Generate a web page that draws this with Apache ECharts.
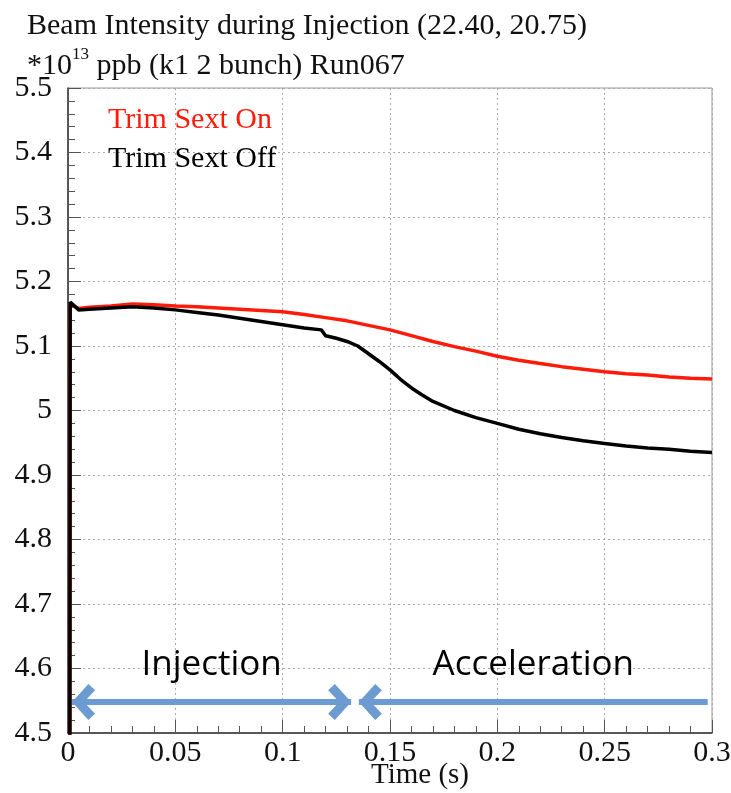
<!DOCTYPE html>
<html>
<head>
<meta charset="utf-8">
<script src="https://cdn.jsdelivr.net/npm/echarts@6/dist/echarts.min.js"></script>
<style>
  html, body { margin: 0; padding: 0; background: #fff; }
  #chart { width: 731px; height: 793px; }
</style>
</head>
<body>
<div id="chart"></div>
<script>
// Beam intensity (×10^13 ppb) versus time for the two trim-sextupole settings.
const timeOn = [0, 0.001, 0.005, 0.01, 0.02, 0.03, 0.04, 0.05, 0.06, 0.07, 0.08, 0.09, 0.1, 0.11, 0.12, 0.13, 0.14, 0.15, 0.16, 0.17, 0.18, 0.19, 0.2, 0.21, 0.22, 0.23, 0.24, 0.25, 0.26, 0.27, 0.28, 0.29, 0.3];
const intensityOn = [0, 5.165, 5.158, 5.16, 5.162, 5.165, 5.164, 5.162, 5.161, 5.159, 5.157, 5.155, 5.153, 5.149, 5.144, 5.139, 5.132, 5.125, 5.116, 5.107, 5.099, 5.092, 5.084, 5.078, 5.073, 5.068, 5.064, 5.06, 5.057, 5.055, 5.052, 5.05, 5.049];

const timeOff = [0, 0.001, 0.005, 0.01, 0.02, 0.03, 0.04, 0.05, 0.06, 0.07, 0.08, 0.09, 0.1, 0.11, 0.118, 0.12, 0.125, 0.13, 0.135, 0.14, 0.145, 0.15, 0.155, 0.16, 0.165, 0.17, 0.18, 0.19, 0.2, 0.21, 0.22, 0.23, 0.24, 0.25, 0.26, 0.27, 0.28, 0.29, 0.3];
const intensityOff = [0, 5.168, 5.156, 5.157, 5.159, 5.161, 5.159, 5.156, 5.152, 5.148, 5.143, 5.138, 5.133, 5.128, 5.125, 5.116, 5.112, 5.107, 5.1, 5.088, 5.076, 5.063, 5.048, 5.035, 5.024, 5.014, 5.0, 4.989, 4.98, 4.971, 4.964, 4.958, 4.953, 4.949, 4.945, 4.942, 4.94, 4.937, 4.935];

const seriesNames = ['Trim Sext On', 'Trim Sext Off'];
const seriesColors = ['#ff1a0a', '#000000'];

// Phase annotations: arrows spanning each phase of the cycle
const phaseLevel = 4.548;
const injectionSpan = [0.0019, 0.1319];
const accelerationSpan = [0.1355, 0.298];
const phaseLabels = ['Injection', 'Acceleration'];

const serif = '"Liberation Serif", "DejaVu Serif", serif';
const sans = '"Open Sans", Lato, sans-serif';
// open chevron head; a tiny speck on the far side keeps the tip at the symbol centre
const chevron = 'path://M0,0 L13,11 L8.5,15.5 L0,8 L-8.5,15.5 L-13,11 Z M-0.05,-15.5 L0.05,-15.5 L0,-15.45 Z';

const zip = (xs, ys) => xs.map((x, i) => [x, ys[i]]);

const chart = echarts.init(document.getElementById('chart'));
chart.setOption({
  animation: false,
  backgroundColor: '#ffffff',
  title: {
    text: 'Beam Intensity during Injection (22.40, 20.75)\n*10{sup|13} ppb (k1 2 bunch) Run067',
    left: 22,
    top: 1,
    textStyle: {
      fontFamily: serif,
      fontSize: 30,
      fontWeight: 'normal',
      color: '#111',
      lineHeight: 40,
      rich: {
        sup: { fontFamily: serif, fontSize: 17, verticalAlign: 'top', lineHeight: 28, color: '#111' }
      }
    }
  },
  legend: {
    orient: 'vertical',
    left: 98,
    top: 100,
    icon: 'none',
    itemWidth: 0,
    itemGap: 9,
    selectedMode: false,
    textStyle: { fontFamily: serif, fontSize: 30 },
    data: seriesNames.map((n, i) => ({ name: n, textStyle: { color: seriesColors[i] } }))
  },
  grid: {
    left: 68, right: 19, top: 88, bottom: 60,
    outerBoundsMode: 'none',
    containLabel: false,
    show: true, borderColor: '#999', borderWidth: 1, backgroundColor: 'transparent'
  },
  xAxis: {
    type: 'value',
    min: 0, max: 0.3, interval: 0.05,
    name: 'Time (s)',
    nameLocation: 'middle',
    nameGap: 28,
    nameMoveOverlap: false,
    nameTextStyle: { fontFamily: serif, fontSize: 29, color: '#111', padding: [0, 0, 0, 60] },
    axisLine: { show: true, lineStyle: { color: '#333', width: 1.5 } },
    axisTick: { inside: true, length: 13, lineStyle: { color: '#555' } },
    minorTick: { show: true, splitNumber: 5, length: 7, lineStyle: { color: '#555' } },
    axisLabel: { fontFamily: serif, fontSize: 30, color: '#111', margin: 5 },
    splitLine: { show: true, lineStyle: { color: '#aaa', type: [2, 3] } }
  },
  yAxis: {
    type: 'value',
    min: 4.5, max: 5.5, interval: 0.1,
    axisLine: { show: true, lineStyle: { color: '#333', width: 1.5 } },
    axisTick: { inside: true, length: 13, lineStyle: { color: '#555' } },
    minorTick: { show: true, splitNumber: 5, length: 7, lineStyle: { color: '#555' } },
    axisLabel: { fontFamily: serif, fontSize: 30, color: '#111', margin: 16 },
    splitLine: { show: true, lineStyle: { color: '#aaa', type: [2, 3] } }
  },
  series: [
    {
      name: seriesNames[0],
      type: 'line',
      data: zip(timeOn, intensityOn),
      showSymbol: false,
      clip: true,
      lineStyle: { color: seriesColors[0], width: 3.5 },
      itemStyle: { color: seriesColors[0] },
      z: 2
    },
    {
      name: seriesNames[1],
      type: 'line',
      data: zip(timeOff, intensityOff),
      showSymbol: false,
      clip: true,
      lineStyle: { color: seriesColors[1], width: 3.5 },
      itemStyle: { color: seriesColors[1] },
      z: 3,
      markLine: {
        silent: true,
        animation: false,
        lineStyle: { color: '#6b9bd1', width: 6, type: 'solid', opacity: 1 },
        symbolSize: [36, 46],
        label: {
          show: true,
          position: 'middle',
          distance: 20,
          fontFamily: sans,
          fontSize: 35,
          color: '#000',
          formatter: p => p.name
        },
        data: [
          [
            { name: phaseLabels[0], coord: [injectionSpan[0], phaseLevel], symbol: chevron },
            { coord: [injectionSpan[1], phaseLevel], symbol: chevron }
          ],
          [
            { name: phaseLabels[1], coord: [accelerationSpan[0], phaseLevel], symbol: chevron },
            { coord: [accelerationSpan[1], phaseLevel], symbol: 'none' }
          ]
        ]
      }
    }
  ]
});
</script>
</body>
</html>
